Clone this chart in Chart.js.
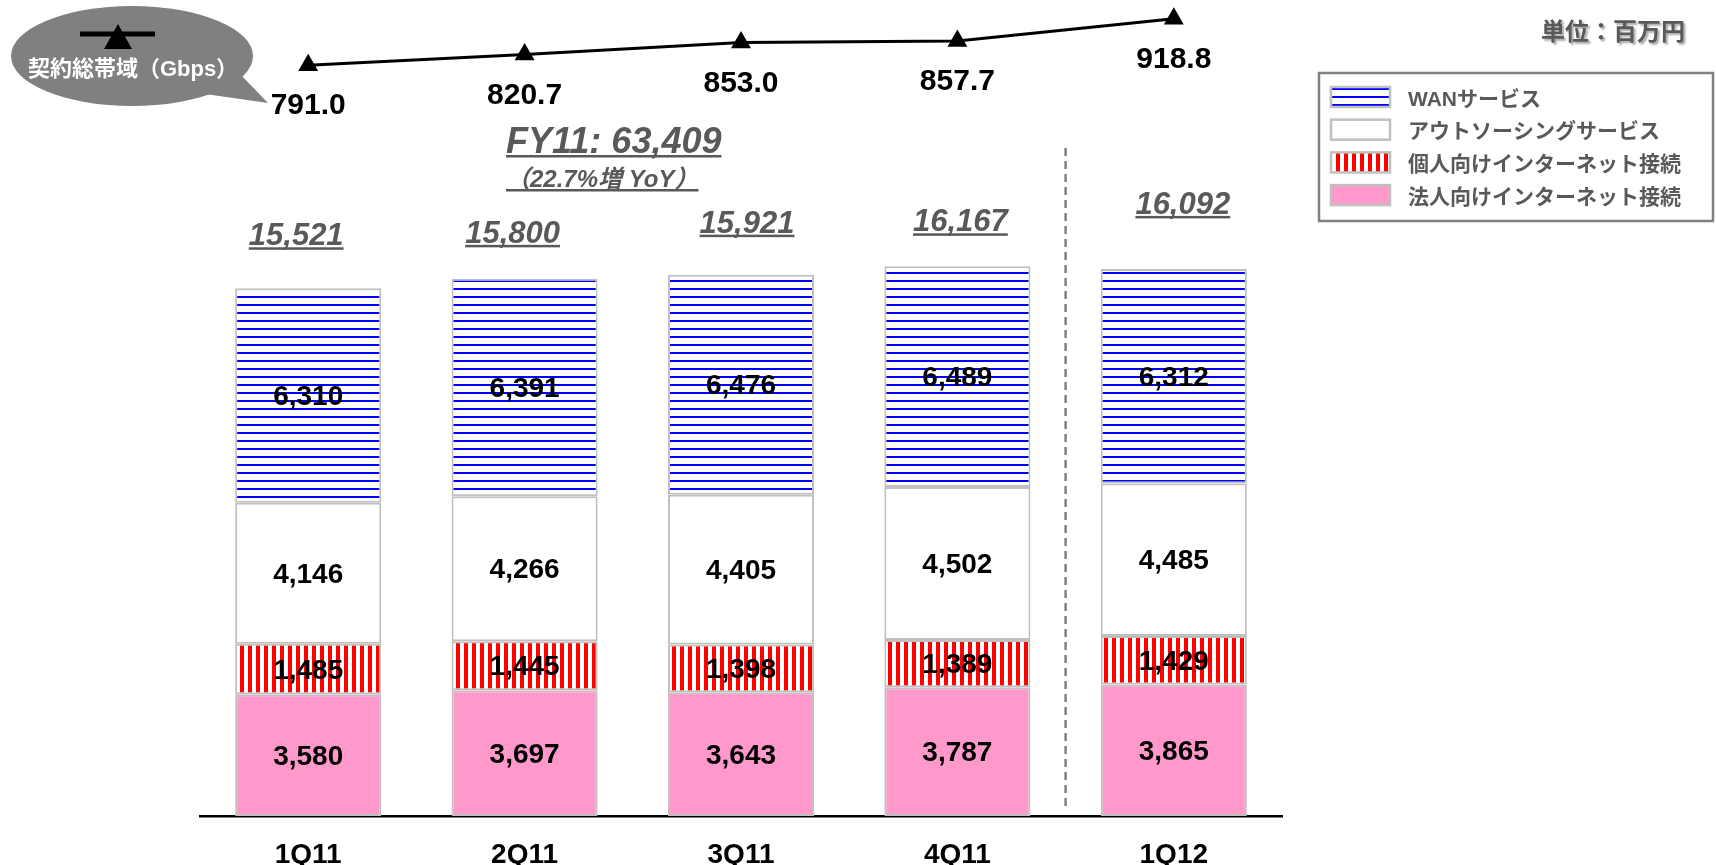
<!DOCTYPE html>
<html>
<head>
<meta charset="utf-8">
<script src="https://cdn.jsdelivr.net/npm/chart.js@4"></script>
<style>
  html, body { margin: 0; padding: 0; background: #fff; }
  #wrap { width: 1716px; height: 865px; }
</style>
</head>
<body>
<div id="wrap"><canvas id="revenueChart" width="1716" height="865"></canvas></div>
<script>
// values (unit: million yen, bandwidth in Gbps)
const categories = ['1Q11', '2Q11', '3Q11', '4Q11', '1Q12'];
const corporateNet = [3580, 3697, 3643, 3787, 3865];
const personalNet = [1485, 1445, 1398, 1389, 1429];
const outsourcing = [4146, 4266, 4405, 4502, 4485];
const wanService = [6310, 6391, 6476, 6489, 6312];
const quarterTotals = [15521, 15800, 15921, 16167, 16092];
const bandwidth = [791.0, 820.7, 853.0, 857.7, 918.8];
const seriesNames = ['法人向けインターネット接続', '個人向けインターネット接続', 'アウトソーシングサービス', 'WANサービス'];
const bandwidthName = '契約総帯域（Gbps）';
const fyTitle = 'FY11: 63,409';
const fyNote = '（22.7%増 YoY）';
const unitText = '単位：百万円';

const FONT = '"Liberation Sans", Arial, "Noto Sans CJK JP", sans-serif';
const GRAY_TEXT = '#595959';
const SEG_BORDER = '#c0c0c0';

// nudges for the hand placed total labels (px, relative to bar top / center)
const totalShiftX = [-12, -12, 6, 3, 9];
const totalShiftY = [-43, -36, -42, -35, -55];

function makePattern(w, h, paint) {
    const c = document.createElement('canvas');
    c.width = w; c.height = h;
    const p = c.getContext('2d');
    p.fillStyle = '#fff';
    p.fillRect(0, 0, w, h);
    paint(p);
    return document.getElementById('revenueChart').getContext('2d').createPattern(c, 'repeat');
}

const bluePattern = makePattern(8, 8, p => { p.fillStyle = '#0000ff'; p.fillRect(0, 0, 8, 2); });
const redPattern = makePattern(8, 8, p => { p.fillStyle = '#ff0000'; p.fillRect(0, 0, 4, 8); });

function underlinedText(ctx, text, x, y, align) {
    ctx.textAlign = align;
    ctx.textBaseline = 'alphabetic';
    ctx.fillText(text, x, y);
    const w = ctx.measureText(text).width;
    const x0 = align === 'center' ? x - w / 2 : x;
    ctx.fillRect(x0, y + 2, w, 2.5);
}

const overlay = {
    id: 'overlay',
    beforeDatasetsDraw(chart) {
        const ctx = chart.ctx;
        const xs = chart.scales.x;
        // separator between FY11 and FY12
        const sx = (xs.getPixelForValue(3) + xs.getPixelForValue(4)) / 2;
        ctx.save();
        ctx.strokeStyle = '#808080';
        ctx.lineWidth = 2.5;
        ctx.setLineDash([8, 5]);
        ctx.beginPath();
        ctx.moveTo(sx, 148);
        ctx.lineTo(sx, chart.chartArea.bottom - 6);
        ctx.stroke();
        ctx.restore();
    },
    afterDatasetsDraw(chart) {
        const ctx = chart.ctx;
        ctx.save();
        // values inside segments
        ctx.fillStyle = '#000';
        ctx.font = 'bold 28px ' + FONT;
        ctx.textAlign = 'center';
        ctx.textBaseline = 'middle';
        for (let d = 0; d < 4; d++) {
            const meta = chart.getDatasetMeta(d);
            meta.data.forEach((el, i) => {
                const v = chart.data.datasets[d].data[i];
                ctx.fillText(v.toLocaleString('en-US'), el.x, (el.y + el.base) / 2 + 2);
            });
        }
        // quarter totals
        ctx.fillStyle = GRAY_TEXT;
        ctx.font = 'italic bold 31px ' + FONT;
        chart.getDatasetMeta(3).data.forEach((el, i) => {
            underlinedText(ctx, quarterTotals[i].toLocaleString('en-US'),
                el.x + totalShiftX[i], el.y + totalShiftY[i], 'center');
        });
        // bandwidth labels under the markers
        ctx.fillStyle = '#000';
        ctx.font = 'bold 30px ' + FONT;
        ctx.textAlign = 'center';
        ctx.textBaseline = 'middle';
        chart.getDatasetMeta(4).data.forEach((pt, i) => {
            ctx.fillText(bandwidth[i].toFixed(1), pt.x, pt.y + 41);
        });
        ctx.restore();
    },
    afterDraw(chart) {
        const ctx = chart.ctx;
        ctx.save();

        // FY11 summary
        ctx.fillStyle = GRAY_TEXT;
        ctx.font = 'italic bold 36px ' + FONT;
        underlinedText(ctx, fyTitle, 506, 153, 'left');
        ctx.font = 'italic bold 24px ' + FONT;
        underlinedText(ctx, fyNote, 506, 187, 'left');

        // callout bubble for the line series
        ctx.fillStyle = '#808080';
        ctx.beginPath();
        ctx.ellipse(132, 56, 121, 50, 0, 0, Math.PI * 2);
        ctx.fill();
        ctx.beginPath();
        ctx.moveTo(205, 94);
        ctx.lineTo(268, 103);
        ctx.lineTo(240, 74);
        ctx.closePath();
        ctx.fill();
        ctx.fillStyle = '#000';
        ctx.fillRect(80, 31.5, 75, 5);
        ctx.beginPath();
        ctx.moveTo(118, 24);
        ctx.lineTo(132, 49);
        ctx.lineTo(104, 49);
        ctx.closePath();
        ctx.fill();
        ctx.fillStyle = '#fff';
        ctx.font = 'bold 22px ' + FONT;
        ctx.textAlign = 'center';
        ctx.textBaseline = 'middle';
        ctx.fillText(bandwidthName, 133, 70);

        // unit
        ctx.save();
        ctx.shadowColor = 'rgba(0,0,0,0.35)';
        ctx.shadowOffsetX = 2;
        ctx.shadowOffsetY = 2;
        ctx.shadowBlur = 2;
        ctx.fillStyle = GRAY_TEXT;
        ctx.font = 'bold 24px ' + FONT;
        ctx.textAlign = 'right';
        ctx.fillText(unitText, 1685, 33);
        ctx.restore();

        // legend box (top series first)
        ctx.strokeStyle = '#808080';
        ctx.lineWidth = 2.5;
        ctx.strokeRect(1319, 73, 394, 148);
        ctx.font = 'bold 21px ' + FONT;
        ctx.textAlign = 'left';
        ctx.textBaseline = 'middle';
        const order = [3, 2, 1, 0];
        order.forEach((d, row) => {
            const ds = chart.data.datasets[d];
            const ry = 98 + row * 32.7;
            ctx.fillStyle = ds.backgroundColor;
            ctx.fillRect(1331, ry - 11, 59, 20);
            ctx.strokeStyle = SEG_BORDER;
            ctx.lineWidth = 2.5;
            ctx.strokeRect(1331, ry - 11, 59, 20);
            ctx.fillStyle = GRAY_TEXT;
            ctx.fillText(ds.label, 1408, ry + 2);
        });
        ctx.restore();
    }
};

function barSet(label, data, fill) {
    return {
        type: 'bar',
        label: label,
        data: data,
        backgroundColor: fill,
        borderColor: SEG_BORDER,
        borderWidth: 2,
        borderSkipped: false,
        barPercentage: 0.675,
        categoryPercentage: 1,
        yAxisID: 'y',
        order: 2
    };
}

var ctx = document.getElementById('revenueChart').getContext('2d');
new Chart(ctx, {
    type: 'bar',
    data: {
        labels: categories,
        datasets: [
            barSet(seriesNames[0], corporateNet, '#ff99cc'),
            barSet(seriesNames[1], personalNet, redPattern),
            barSet(seriesNames[2], outsourcing, '#ffffff'),
            barSet(seriesNames[3], wanService, bluePattern),
            {
                type: 'line',
                label: bandwidthName,
                data: bandwidth,
                yAxisID: 'y2',
                borderColor: '#000',
                borderWidth: 3,
                pointStyle: 'triangle',
                pointRadius: 11.5,
                pointBackgroundColor: '#000',
                pointBorderColor: '#000',
                pointBorderWidth: 0,
                tension: 0,
                clip: false,
                order: 1
            }
        ]
    },
    options: {
        responsive: false,
        animation: false,
        devicePixelRatio: 1,
        events: [],
        layout: { autoPadding: false, padding: { left: 200, right: 434, top: 0, bottom: 0 } },
        scales: {
            x: {
                stacked: true,
                grid: { display: false, drawTicks: false },
                border: { display: true, color: '#000', width: 2.5 },
                ticks: {
                    color: '#000',
                    padding: 22,
                    font: { family: FONT, size: 28, weight: 'bold' }
                },
                afterFit: scale => { scale.height = 49; }
            },
            y: {
                stacked: true,
                display: false,
                min: 0,
                max: 24000
            },
            y2: {
                display: false,
                min: -1270,
                max: 970
            }
        },
        plugins: {
            legend: { display: false },
            tooltip: { enabled: false }
        }
    },
    plugins: [overlay]
});
</script>
</body>
</html>
